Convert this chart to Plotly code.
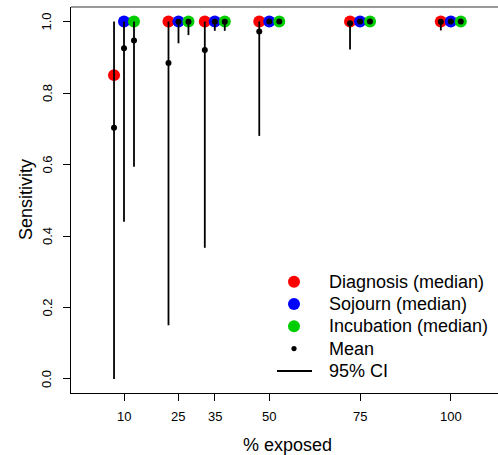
import plotly.graph_objects as go

# ---- data ----
exposure = [10, 25, 35, 50, 75, 100]

diag_median = [0.85, 1.0, 1.0, 1.0, 1.0, 1.0]
diag_mean = [0.703, 0.884, 0.920, 0.972, 0.995, 0.999]
diag_lo = [0.0, 0.15, 0.367, 0.68, 0.922, 0.975]
diag_hi = [1.0, 1.0, 1.0, 1.0, 1.0, 1.0]

soj_median = [1.0, 1.0, 1.0, 1.0, 1.0, 1.0]
soj_mean = [0.925, 0.999, 0.999, 1.0, 1.0, 1.0]
soj_lo = [0.44, 0.939, 0.974, 1.0, 1.0, 1.0]
soj_hi = [1.0, 1.0, 1.0, 1.0, 1.0, 1.0]

inc_median = [1.0, 1.0, 1.0, 1.0, 1.0, 1.0]
inc_mean = [0.947, 0.999, 0.999, 1.0, 1.0, 1.0]
inc_lo = [0.594, 0.962, 0.974, 1.0, 1.0, 1.0]
inc_hi = [1.0, 1.0, 1.0, 1.0, 1.0, 1.0]

x_ticks = [10, 25, 35, 50, 75, 100]
x_tick_labels = ["10", "25", "35", "50", "75", "100"]
y_ticks = [0.0, 0.2, 0.4, 0.6, 0.8, 1.0]
y_tick_labels = ["0.0", "0.2", "0.4", "0.6", "0.8", "1.0"]

legend_labels = ["Diagnosis (median)", "Sojourn (median)", "Incubation (median)",
                 "Mean", "95% CI"]
colors = ["#FF0000", "#0000FF", "#00CD00"]

series = [
    (legend_labels[0], colors[0], -1, diag_median, diag_mean, diag_lo, diag_hi),
    (legend_labels[1], colors[1], 0, soj_median, soj_mean, soj_lo, soj_hi),
    (legend_labels[2], colors[2], 1, inc_median, inc_mean, inc_lo, inc_hi),
]
OFFSET = 2.75
FONT = "Liberation Sans, Arial, sans-serif"

fig = go.Figure()

# median circles
for name, col, k, med, mean, lo, hi in series:
    xs = [e + k * OFFSET for e in exposure]
    fig.add_trace(go.Scatter(x=xs, y=med, mode="markers", name=name, showlegend=False,
                             marker=dict(color=col, size=12, line=dict(width=0))))

# CI lines
ci_x, ci_y = [], []
for name, col, k, med, mean, lo, hi in series:
    for e, l, h in zip(exposure, lo, hi):
        ci_x += [e + k * OFFSET, e + k * OFFSET, None]
        ci_y += [l, h, None]
fig.add_trace(go.Scatter(x=ci_x, y=ci_y, mode="lines", name="95% CI", showlegend=False,
                         line=dict(color="black", width=1.8)))

# means
mean_x, mean_y = [], []
for name, col, k, med, mean, lo, hi in series:
    mean_x += [e + k * OFFSET for e in exposure]
    mean_y += list(mean)
fig.add_trace(go.Scatter(x=mean_x, y=mean_y, mode="markers", name="Mean", showlegend=False,
                         marker=dict(color="black", size=6, line=dict(width=0))))

L, T, B = 71, 7, 62
W, H = 498, 455
pw, ph = W - L, H - T - B


def px_x(p):
    return (p - L) / pw


def px_y(p):
    return (T + ph - p) / ph


annotations = [
    dict(text="% exposed", xref="paper", yref="paper",
         x=px_x(287), y=px_y(445),
         xanchor="center", yanchor="middle", showarrow=False,
         font=dict(size=18, family=FONT, color="black")),
    dict(text="Sensitivity", xref="paper", yref="paper",
         x=px_x(26), y=0.5, textangle=-90,
         xanchor="center", yanchor="middle", showarrow=False,
         font=dict(size=18, family=FONT, color="black")),
]
for v, lab in zip(y_ticks, y_tick_labels):
    annotations.append(dict(text=lab, xref="paper", yref="y", x=px_x(47), y=v,
                            textangle=-90, xanchor="center", yanchor="middle",
                            showarrow=False,
                            font=dict(size=13, family=FONT, color="black")))
for v, lab in zip(x_ticks, x_tick_labels):
    annotations.append(dict(text=lab, xref="x", yref="paper", x=v, y=px_y(416.5),
                            xanchor="center", yanchor="middle", showarrow=False,
                            font=dict(size=13, family=FONT, color="black")))

# manual legend (R style, no box)
leg_sym_x = 294
leg_text_x = 327
leg_y = [281.7, 303.9, 326.2, 348.6, 371.0]
shapes = [dict(type="line", xref="paper", yref="paper", x0=0, x1=1, y0=1, y1=1,
               line=dict(color="#777777", width=1.3))]
for i, lab in enumerate(legend_labels):
    annotations.append(dict(text=lab, xref="paper", yref="paper",
                            x=px_x(leg_text_x), y=px_y(leg_y[i]),
                            xanchor="left", yanchor="middle", showarrow=False,
                            font=dict(size=18, family=FONT, color="black")))
for i, col in enumerate(colors):
    shapes.append(dict(type="circle", xref="paper", yref="paper",
                       xsizemode="pixel", ysizemode="pixel",
                       xanchor=px_x(leg_sym_x), yanchor=px_y(leg_y[i]),
                       x0=-6, x1=6, y0=-6, y1=6,
                       fillcolor=col, line=dict(width=0)))
shapes.append(dict(type="circle", xref="paper", yref="paper",
                   xsizemode="pixel", ysizemode="pixel",
                   xanchor=px_x(leg_sym_x), yanchor=px_y(leg_y[3]),
                   x0=-2.6, x1=2.6, y0=-2.6, y1=2.6,
                   fillcolor="black", line=dict(width=0)))
shapes.append(dict(type="line", xref="paper", yref="paper",
                   x0=px_x(277), x1=px_x(312), y0=px_y(leg_y[4]), y1=px_y(leg_y[4]),
                   line=dict(color="black", width=1.8)))

fig.update_layout(
    width=W, height=H,
    margin=dict(l=L, r=0, t=T, b=B, pad=0),
    paper_bgcolor="white", plot_bgcolor="white",
    font=dict(family=FONT, color="black"),
    showlegend=False,
    xaxis=dict(
        range=[-4.6, 113.0], tickmode="array", tickvals=x_ticks,
        showticklabels=False,
        showgrid=False, zeroline=False,
        showline=True, linecolor="black", linewidth=1.3,
        ticks="outside", ticklen=7, tickwidth=1, tickcolor="black",
    ),
    yaxis=dict(
        range=[-0.0392, 1.0406], tickmode="array", tickvals=y_ticks,
        showticklabels=False,
        showgrid=False, zeroline=False,
        showline=True, linecolor="black", linewidth=1.3,
        ticks="outside", ticklen=7, tickwidth=1, tickcolor="black",
    ),
    shapes=shapes,
    annotations=annotations,
)

fig.write_html("out.html")
